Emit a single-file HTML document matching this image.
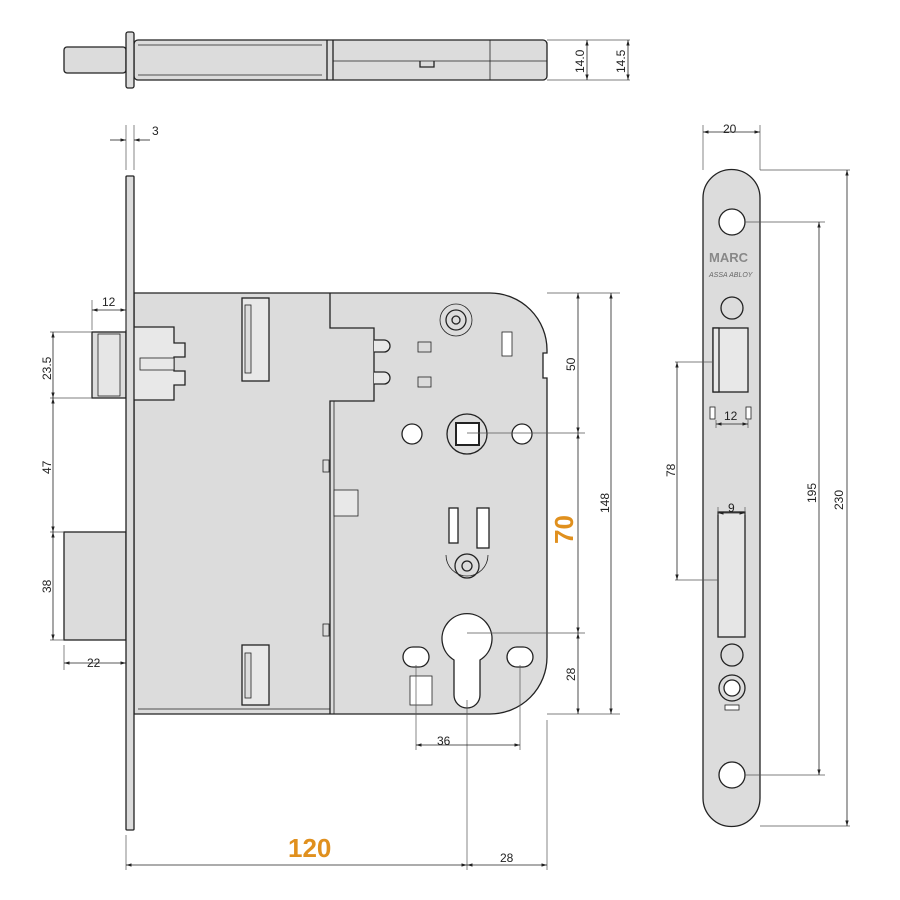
<!DOCTYPE html>
<html><head><meta charset="utf-8"><style>body{margin:0;background:#fff}svg{display:block}text{font-family:"Liberation Sans",sans-serif;font-size:12px;fill:#222}</style></head><body>
<svg width="900" height="900" viewBox="0 0 900 900" xmlns="http://www.w3.org/2000/svg">
<defs><marker id="a" viewBox="0 0 10 10" refX="10" refY="5" markerWidth="7" markerHeight="7" orient="auto-start-reverse"><path d="M0,2 L10,5 L0,8z" fill="#222"/></marker></defs>
<g stroke="#222" stroke-width="1.3" fill="#dcdcdc">
<rect x="64" y="47" width="62" height="26" rx="3"/>
<rect x="134" y="40" width="413" height="40" rx="4"/>
<line x1="327" y1="40" x2="327" y2="80"/><line x1="333" y1="40" x2="333" y2="80"/>
<line x1="333" y1="61" x2="547" y2="61" stroke-width="0.8"/>
<line x1="490" y1="40" x2="490" y2="80" stroke-width="0.8"/>
<path d="M420 61 v6 h14 v-6" fill="none"/>
<line x1="138" y1="45" x2="322" y2="45" stroke-width="0.8"/><line x1="138" y1="75" x2="322" y2="75" stroke-width="0.8"/>
<rect x="126" y="32" width="8" height="56" rx="2"/>
<path d="M134 293 H490 A57 57 0 0 1 547 350 V353 H543 V378 H547 V657 A57 57 0 0 1 490 714 H134 Z"/>
<path d="M330 293 V328 H374 V401 H330 V714" fill="none"/>
<line x1="334" y1="401" x2="334" y2="714" stroke-width="0.8"/>
<line x1="138" y1="709" x2="330" y2="709" stroke-width="0.8"/>
<rect x="92" y="332" width="34" height="66"/>
<rect x="98" y="334" width="22" height="62" fill="#e6e6e6" stroke-width="0.8"/>
<path d="M134 327 H174 V343 H185 V357 H174 V371 H185 V385 H174 V400 H134" fill="#e8e8e8"/>
<rect x="140" y="358" width="34" height="12" fill="#e8e8e8" stroke-width="0.8"/>
<rect x="64" y="532" width="62" height="108"/>
<rect x="242" y="298" width="27" height="83" fill="#e8e8e8"/>
<rect x="245" y="305" width="6" height="68" stroke-width="0.8"/>
<rect x="242" y="645" width="27" height="60" fill="#e8e8e8"/>
<rect x="245" y="653" width="6" height="45" stroke-width="0.8"/>
<rect x="334" y="490" width="24" height="26" fill="#e8e8e8" stroke-width="0.8"/>
<rect x="323" y="460" width="6" height="12" stroke-width="0.8"/><rect x="323" y="624" width="6" height="12" stroke-width="0.8"/>
<path d="M374 340 h10 a6 6 0 0 1 0 12 h-10 M374 372 h10 a6 6 0 0 1 0 12 h-10" fill="#e8e8e8"/>
<rect x="418" y="342" width="13" height="10" stroke-width="0.8"/><rect x="418" y="377" width="13" height="10" stroke-width="0.8"/>
<rect x="502" y="332" width="10" height="24" fill="#fff" stroke-width="0.8"/>
<circle cx="456" cy="320" r="16" fill="none" stroke-width="0.8"/><circle cx="456" cy="320" r="10" fill="none"/><circle cx="456" cy="320" r="4" fill="none"/>
<circle cx="467" cy="434" r="20" fill="none"/><rect x="456" y="423" width="23" height="22" fill="#fff" stroke-width="2"/>
<circle cx="412" cy="434" r="10" fill="#fff"/><circle cx="522" cy="434" r="10" fill="#fff"/>
<rect x="449" y="508" width="9" height="35" fill="#fff"/><rect x="477" y="508" width="12" height="40" fill="#fff"/>
<path d="M446 555 a21 21 0 0 0 42 0" fill="none" stroke-width="0.8"/><circle cx="467" cy="566" r="12" fill="none"/><circle cx="467" cy="566" r="5" fill="none"/>
<path d="M454 660 A25 25 0 1 1 480 660 V695 A13 13 0 0 1 454 695 Z" fill="#fff"/>
<rect x="403" y="647" width="26" height="20" rx="10" fill="#fff"/><rect x="507" y="647" width="26" height="20" rx="10" fill="#fff"/>
<rect x="410" y="676" width="22" height="29" fill="#fff" stroke-width="0.8"/>
<rect x="126" y="176" width="8" height="654" rx="1"/>
<path d="M703 198 A28 28 0 0 1 760 198 V798 A28 28 0 0 1 703 798 Z"/>
<circle cx="732" cy="222" r="13" fill="#fff"/><circle cx="732" cy="775" r="13" fill="#fff"/>
<circle cx="732" cy="308" r="11" fill="none"/><circle cx="732" cy="655" r="11" fill="none"/>
<circle cx="732" cy="688" r="13" fill="none"/><circle cx="732" cy="688" r="8" fill="#fff"/>
<rect x="725" y="705" width="14" height="5" fill="#fff" stroke-width="0.8"/>
<rect x="713" y="328" width="35" height="64" fill="#e8e8e8"/><rect x="713" y="328" width="6" height="64" fill="#e8e8e8"/>
<rect x="710" y="407" width="5" height="12" fill="#fff" stroke-width="0.8"/><rect x="746" y="407" width="5" height="12" fill="#fff" stroke-width="0.8"/>
<rect x="718" y="512" width="27" height="125" fill="#e6e6e6"/>
</g>
<text x="709" y="262" style="font-size:13px;font-weight:bold;fill:#888">MARC</text>
<text x="709" y="277" style="font-size:7px;font-style:italic;fill:#666">ASSA ABLOY</text>
<g stroke="#555" stroke-width="0.7" fill="none">
<path d="M547 40 H630 M547 80 H630 M126 125 V170 M134 125 V170 M92 300 V330 M126 300 V330 M50 332 H92 M50 398 H92 M50 532 H64 M50 640 H64 M64 645 V670 M547 293 H620 M547 714 H620 M467 433 H585 M467 633 H585 M416 665 V750 M520 665 V750 M467 700 V870 M547 720 V870 M126 835 V870 M703 125 V170 M760 125 V170 M760 170 H850 M745 222 H825 M745 775 H825 M760 826 H850 M675 362 H713 M675 580 H718 M718 507 V515 M745 507 V515 M716 420 V428 M748 420 V428"/>
</g>
<g stroke="#222" stroke-width="0.8" marker-start="url(#a)" marker-end="url(#a)">
<line x1="587" y1="40" x2="587" y2="80"/><line x1="628" y1="40" x2="628" y2="80"/>
<line x1="92" y1="310" x2="126" y2="310"/>
<line x1="53" y1="332" x2="53" y2="398"/><line x1="53" y1="398" x2="53" y2="532"/><line x1="53" y1="532" x2="53" y2="640"/>
<line x1="64" y1="663" x2="126" y2="663"/>
<line x1="578" y1="293" x2="578" y2="433"/><line x1="578" y1="433" x2="578" y2="633"/><line x1="578" y1="633" x2="578" y2="714"/>
<line x1="611" y1="293" x2="611" y2="714"/>
<line x1="416" y1="745" x2="520" y2="745"/>
<line x1="126" y1="865" x2="467" y2="865"/><line x1="467" y1="865" x2="547" y2="865"/>
<line x1="703" y1="132" x2="760" y2="132"/>
<line x1="847" y1="170" x2="847" y2="826"/><line x1="819" y1="222" x2="819" y2="775"/>
<line x1="677" y1="362" x2="677" y2="580"/>
<line x1="718" y1="513" x2="745" y2="513"/><line x1="716" y1="424" x2="748" y2="424"/>
</g>
<g stroke="#222" stroke-width="0.8"><line x1="110" y1="140" x2="126" y2="140" marker-end="url(#a)"/><line x1="150" y1="140" x2="134" y2="140" marker-end="url(#a)"/></g>
<text x="152" y="135">3</text>
<text x="102" y="306">12</text>
<text x="87" y="667">22</text>
<text x="437" y="745">36</text>
<text x="500" y="862">28</text>
<text x="723" y="133">20</text>
<text x="724" y="420">12</text>
<text x="728" y="512">9</text>
<text x="288" y="857" style="font-size:26px;font-weight:bold;fill:#e0901e">120</text>
<text transform="translate(573,544) rotate(-90)" style="font-size:26px;font-weight:bold;fill:#e0901e">70</text>
<g>
<text transform="translate(51,380) rotate(-90)">23.5</text>
<text transform="translate(51,474) rotate(-90)">47</text>
<text transform="translate(51,593) rotate(-90)">38</text>
<text transform="translate(575,371) rotate(-90)">50</text>
<text transform="translate(575,681) rotate(-90)">28</text>
<text transform="translate(609,513) rotate(-90)">148</text>
<text transform="translate(584,73) rotate(-90)">14.0</text>
<text transform="translate(625,73) rotate(-90)">14.5</text>
<text transform="translate(675,477) rotate(-90)">78</text>
<text transform="translate(816,503) rotate(-90)">195</text>
<text transform="translate(843,510) rotate(-90)">230</text>
</g>
</svg>
</body></html>
